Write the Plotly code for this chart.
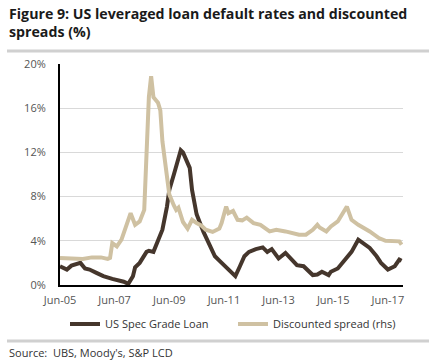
import plotly.graph_objects as go

# US Spec Grade Loan default rate (%)
spec_dates = ["2005-06","2005-09","2005-11","2006-03","2006-05","2006-07","2006-10","2007-01",
              "2007-05","2007-08","2007-10","2007-12","2008-02","2008-03","2008-05","2008-08",
              "2008-09","2008-11","2009-01","2009-03","2009-05","2009-06","2009-08","2009-09",
              "2009-11","2009-12","2010-03","2010-04","2010-06","2010-09","2010-12","2011-02",
              "2011-04","2011-06","2011-08","2011-11","2012-01","2012-03","2012-05","2012-08",
              "2012-11","2013-01","2013-03","2013-06","2013-09","2013-12","2014-02","2014-05",
              "2014-09","2014-11","2015-01","2015-04","2015-05","2015-08","2015-11","2016-02",
              "2016-05","2016-07","2016-10","2017-01","2017-03","2017-06","2017-09","2017-11",
              "2017-12"]
spec_values = [1.7,1.4,1.75,2.0,1.5,1.4,1.1,0.8,
               0.55,0.45,0.3,0.1,0.8,1.6,2.0,3.0,
               3.1,3.0,4.0,5.0,7.1,8.6,10.0,10.8,
               12.2,12.0,10.6,8.6,6.4,4.8,3.5,2.6,
               2.2,1.8,1.4,0.8,1.7,2.6,3.0,3.25,
               3.4,3.0,3.25,2.4,2.9,2.3,1.8,1.7,
               0.9,0.95,1.2,0.9,1.2,1.5,2.3,3.0,
               4.1,3.8,3.35,2.6,2.0,1.4,1.7,2.3,
               2.2]

# Discounted spread (rhs, %)
spread_dates = ["2005-06","2005-12","2006-04","2006-08","2006-12","2007-03","2007-04","2007-05",
                "2007-07","2007-09","2007-11","2008-01","2008-03","2008-05","2008-07","2008-08",
                "2008-09","2008-10","2008-11","2009-01","2009-02","2009-03","2009-05","2009-06",
                "2009-08","2009-09","2009-10","2009-12","2010-02","2010-04","2010-06","2010-08",
                "2010-10","2011-01","2011-04","2011-05","2011-07","2011-08","2011-10","2011-12",
                "2012-02","2012-04","2012-07","2012-10","2013-02","2013-05","2013-09","2014-03",
                "2014-06","2014-09","2014-11","2014-12","2015-03","2015-05","2015-08","2015-11",
                "2015-12","2016-02","2016-05","2016-10","2017-02","2017-05","2017-08","2017-11",
                "2017-12"]
spread_values = [2.45,2.36,2.36,2.5,2.5,2.36,2.45,3.8,
                 3.5,4.1,5.3,6.5,5.45,5.75,6.8,12.5,
                 17.0,18.9,17.0,16.5,15.8,13.0,9.5,8.2,
                 7.2,6.8,7.0,5.7,5.1,5.9,5.6,5.4,
                 5.0,4.8,5.1,5.6,7.1,6.5,6.7,5.9,
                 5.85,6.1,5.6,5.45,4.85,5.0,4.85,4.55,
                 4.55,5.0,5.45,5.2,4.85,5.3,5.75,6.9,
                 7.1,5.9,5.45,4.85,4.25,4.0,4.0,3.95,
                 3.65]

x_tick_vals = ["2005-06-01","2007-06-01","2009-06-01","2011-06-01","2013-06-01","2015-06-01","2017-06-01"]
x_tick_text = ["Jun-05","Jun-07","Jun-09","Jun-11","Jun-13","Jun-15","Jun-17"]
y_tick_vals = [0, 4, 8, 12, 16, 20]
y_tick_text = ["0%", "4%", "8%", "12%", "16%", "20%"]

DARK = "#45362c"
LIGHT = "#cfc1a2"

W, H = 429, 363
L, R, T, B = 60, 26, 64, 78
pw = W - L - R
ph = H - T - B

def px(x):
    return (x - L) / pw

def py(y):
    return (H - B - y) / ph

fig = go.Figure()
fig.add_trace(go.Scatter(x=spec_dates, y=spec_values, mode="lines", name="US Spec Grade Loan",
                         line=dict(color=DARK, width=4), legend="legend"))
fig.add_trace(go.Scatter(x=spread_dates, y=spread_values, mode="lines", name="Discounted spread (rhs)",
                         line=dict(color=LIGHT, width=4), legend="legend2"))

legend_common = dict(orientation="h", yanchor="middle", font=dict(size=11, color="#333333"),
                     itemwidth=30, bgcolor="rgba(0,0,0,0)", borderwidth=0)

fig.update_layout(
    width=W, height=H,
    margin=dict(l=L, r=R, t=T, b=B),
    paper_bgcolor="white", plot_bgcolor="white",
    font=dict(family="Open Sans", size=11, color="#444444"),
    showlegend=True,
    legend=dict(x=px(65), xanchor="left", y=py(324), **legend_common),
    legend2=dict(x=px(233), xanchor="left", y=py(324), **legend_common),
    xaxis=dict(type="date", range=["2005-06-01", "2017-12-20"], tickvals=x_tick_vals,
               ticktext=x_tick_text, showgrid=False, showline=True, linecolor="black",
               linewidth=2, ticks="", zeroline=False, fixedrange=True, ticklabelstandoff=4,
               tickfont=dict(size=11, color="#555555")),
    yaxis=dict(range=[0, 20], tickvals=y_tick_vals, ticktext=y_tick_text, showgrid=True,
               gridcolor="#d9d9d9", gridwidth=1, showline=True, linecolor="black",
               linewidth=2, ticks="", zeroline=False, fixedrange=True, ticklabelstandoff=10,
               tickfont=dict(size=11, color="#555555")),
)

fig.add_annotation(xref="paper", yref="paper", x=px(7), y=py(2), xanchor="left", yanchor="top",
                   align="left", showarrow=False,
                   text="<b>Figure 9: US leveraged loan default rates and discounted<br>spreads (%)</b>",
                   font=dict(family="Open Sans", size=14.2, color="#1a1a1a"))
fig.add_annotation(xref="paper", yref="paper", x=px(7), y=py(352), xanchor="left", yanchor="middle",
                   showarrow=False, text="Source:  UBS, Moody's, S&amp;P LCD",
                   font=dict(family="Open Sans", size=11, color="#333333"))

fig.add_shape(type="line", xref="paper", yref="paper", x0=px(7), x1=px(429), y0=py(51), y1=py(51),
              line=dict(color="#d0d0d0", width=3))
fig.add_shape(type="line", xref="paper", yref="paper", x0=px(7), x1=px(429), y0=py(341), y1=py(341),
              line=dict(color="#d0d0d0", width=3))

fig.write_html("out.html", config={"displayModeBar": False},
               post_script="document.body.style.margin='0';document.body.style.padding='0';")
